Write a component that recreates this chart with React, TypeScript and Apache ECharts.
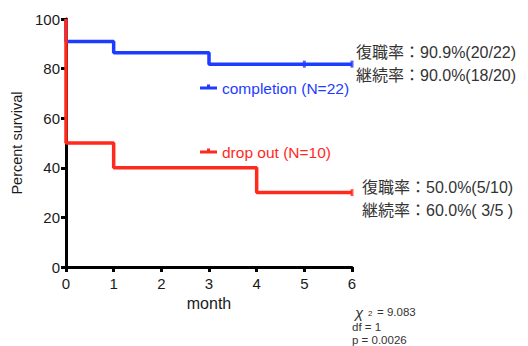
import React, { useEffect, useRef } from "react";
import * as echarts from "echarts";

const months = ["0", "1", "2", "3", "4", "5", "6"];
const yTicks = [0, 20, 40, 60, 80, 100];

const completionTimes = [0, 0, 1, 3, 6];
const completionSurv = [100, 90.9, 86.4, 81.8, 81.8];
const completionCensor = [[5, 81.8], [6, 81.8]];

const dropTimes = [0, 0, 1, 4, 6];
const dropSurv = [100, 50, 40, 30, 30];
const dropCensor = [[6, 30]];

const completionLabel = "completion (N=22)";
const dropLabel = "drop out (N=10)";
const completionNotes = ["復職率：90.9%(20/22)", "継続率：90.0%(18/20)"];
const dropNotes = ["復職率：50.0%(5/10)", "継続率：60.0%( 3/5 )"];
const statLines = ["df = 1", "p = 0.0026"];
const chiValue = "= 9.083";

const BLUE = "#1e3cff";
const RED = "#ff2a1e";
const INK = "#1a1a1a";
const LATIN = "'Liberation Sans', Arial, sans-serif";
const MIXED = "'Liberation Sans', 'Noto Sans CJK JP', sans-serif";

export default function App() {
  const ref = useRef<HTMLDivElement>(null);
  useEffect(() => {
    if (!ref.current) return;
    const chart = echarts.init(ref.current, undefined, { renderer: "svg" });
    const pair = (t: number[], s: number[]) => t.map((x, i) => [x, s[i]]);
    const legendIcon = (y: number, color: string) => [
      { type: "line", shape: { x1: 200, y1: y, x2: 217, y2: y }, style: { stroke: color, lineWidth: 3 } },
      { type: "rect", shape: { x: 207, y: y - 3.5, width: 3, height: 4 }, style: { fill: color } },
    ];
    chart.setOption({
      animation: false,
      grid: { left: 66, right: 176, top: 19, bottom: 79 },
      xAxis: {
        type: "value",
        min: 0,
        max: 6,
        interval: 1,
        name: "month",
        nameLocation: "middle",
        nameGap: 24,
        nameTextStyle: { fontFamily: LATIN, fontSize: 16, color: INK },
        axisLine: { lineStyle: { color: "#000", width: 3 } },
        axisTick: { length: 5, lineStyle: { color: "#000", width: 3 } },
        axisLabel: { fontFamily: LATIN, fontSize: 15, color: INK, margin: 9, formatter: (v: number) => months[v] },
        splitLine: { show: false },
      },
      yAxis: {
        type: "value",
        min: 0,
        max: 100,
        interval: 20,
        name: "Percent survival",
        nameLocation: "middle",
        nameGap: 40,
        nameTextStyle: { fontFamily: LATIN, fontSize: 14.5, color: INK },
        axisLine: { show: true, lineStyle: { color: "#000", width: 3 } },
        axisTick: { show: true, length: 5, lineStyle: { color: "#000", width: 3 } },
        axisLabel: { fontFamily: LATIN, fontSize: 15, color: INK, margin: 6, formatter: (v: number) => (yTicks.includes(v) ? String(v) : "") },
        splitLine: { show: false },
      },
      series: [
        {
          type: "line",
          step: "end",
          clip: false,
          showSymbol: false,
          data: pair(completionTimes, completionSurv),
          lineStyle: { color: BLUE, width: 3.5 },
          itemStyle: { color: BLUE },
        },
        {
          type: "line",
          step: "end",
          clip: false,
          showSymbol: false,
          data: pair(dropTimes, dropSurv),
          lineStyle: { color: RED, width: 3.5 },
          itemStyle: { color: RED },
        },
        {
          type: "scatter",
          clip: false,
          symbol: "rect",
          symbolSize: [3, 7],
          data: completionCensor,
          itemStyle: { color: BLUE },
        },
        {
          type: "scatter",
          clip: false,
          symbol: "rect",
          symbolSize: [3, 7],
          data: dropCensor,
          itemStyle: { color: RED },
        },
      ],
      graphic: [
        ...legendIcon(88, BLUE),
        { type: "text", x: 222, y: 88, style: { text: completionLabel, fill: BLUE, font: `15.5px ${LATIN}`, verticalAlign: "middle" } },
        ...legendIcon(152, RED),
        { type: "text", x: 222, y: 152, style: { text: dropLabel, fill: RED, font: `15.5px ${LATIN}`, verticalAlign: "middle" } },
        { type: "text", x: 356, y: 52, style: { text: completionNotes[0], fill: "#333", font: `16px ${MIXED}`, verticalAlign: "middle" } },
        { type: "text", x: 356, y: 75, style: { text: completionNotes[1], fill: "#333", font: `16px ${MIXED}`, verticalAlign: "middle" } },
        { type: "text", x: 362, y: 187, style: { text: dropNotes[0], fill: "#333", font: `16px ${MIXED}`, verticalAlign: "middle" } },
        { type: "text", x: 362, y: 210, style: { text: dropNotes[1], fill: "#333", font: `16px ${MIXED}`, verticalAlign: "middle" } },
        { type: "text", x: 355, y: 312, style: { text: "χ", fill: "#333", font: `italic 15px ${LATIN}`, verticalAlign: "middle" } },
        { type: "text", x: 368, y: 313, style: { text: "2", fill: "#333", font: `8px ${LATIN}`, verticalAlign: "middle" } },
        { type: "text", x: 377, y: 312, style: { text: chiValue, fill: "#333", font: `11.5px ${LATIN}`, verticalAlign: "middle" } },
        { type: "text", x: 352, y: 327, style: { text: statLines[0], fill: "#333", font: `11.5px ${LATIN}`, verticalAlign: "middle" } },
        { type: "text", x: 352, y: 340, style: { text: statLines[1], fill: "#333", font: `11.5px ${LATIN}`, verticalAlign: "middle" } },
      ],
    });
    return () => chart.dispose();
  }, []);
  return <div ref={ref} style={{ position: "absolute", left: 0, top: 0, width: 528, height: 346, background: "#fff" }} />;
}
